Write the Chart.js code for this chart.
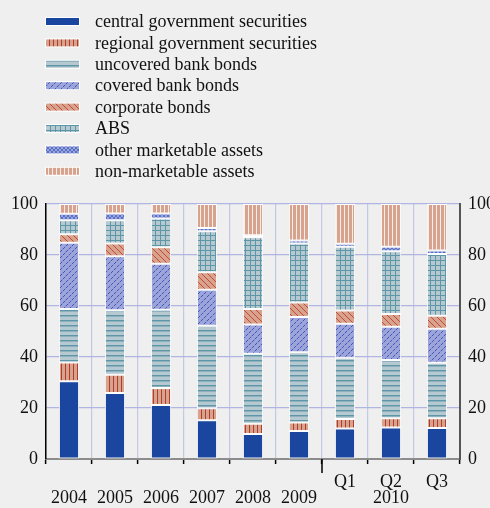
<!DOCTYPE html>
<html lang="en">
<head>
    <meta charset="UTF-8">
    <title>Eligible collateral by asset type</title>
    <script src="https://cdn.jsdelivr.net/npm/chart.js"></script>
    <style>
        body { margin: 0; background: #efefef; }
        #wrap { width: 490px; height: 508px; }
    </style>
</head>
<body>
    <div id="wrap"><canvas id="collChart" width="490" height="508"></canvas></div>

    <script>
        // data (percent of total)
        const categories = ["2004", "2005", "2006", "2007", "2008", "2009", "Q1", "Q2", "Q3"];
        const yearLabels = ["2004", "2005", "2006", "2007", "2008", "2009", "", "2010", ""];
        const quarterLabels = ["", "", "", "", "", "", "Q1", "Q2", "Q3"];
        const seriesNames = [
            "central government securities",
            "regional government securities",
            "uncovered bank bonds",
            "covered bank bonds",
            "corporate bonds",
            "ABS",
            "other marketable assets",
            "non-marketable assets"
        ];
        const centralGov = [30.5, 25.9, 21.2, 15.2, 9.8, 11.0, 12.0, 12.4, 12.2];
        const regionalGov = [7.3, 7.1, 6.6, 4.7, 4.0, 3.3, 3.7, 3.6, 3.8];
        const uncoveredBank = [21.0, 25.3, 30.7, 32.4, 27.5, 27.6, 24.0, 22.8, 21.7];
        const coveredBank = [26.0, 21.2, 18.1, 14.1, 11.4, 13.8, 13.3, 13.1, 13.4];
        const corporate = [3.3, 5.0, 6.4, 6.8, 6.1, 5.7, 5.2, 5.0, 5.1];
        const abs = [5.5, 9.1, 11.3, 16.1, 28.2, 23.1, 25.0, 24.6, 24.2];
        const otherMarketable = [2.6, 2.7, 2.0, 1.3, 0.7, 1.2, 1.2, 1.7, 1.4];
        const nonMarketable = [3.8, 3.7, 3.7, 9.4, 12.3, 14.3, 15.6, 16.8, 18.2];
        const yTicks = [0, 20, 40, 60, 80, 100];

        const SALMON = "#d8a38e";
        const GREYBLUE = "#b6c8d0";
        const TEAL = "#5d96a6";

        function makePattern(w, h, draw) {
            const c = document.createElement("canvas");
            c.width = w; c.height = h;
            const g = c.getContext("2d");
            draw(g);
            return g.createPattern(c, "repeat");
        }
        function px(g, x, y, col) { g.fillStyle = col; g.fillRect(x, y, 1, 1); }

        const fills = [
            "#1a46a0",
            makePattern(4, 1, g => { g.fillStyle = SALMON; g.fillRect(0, 0, 4, 1); px(g, 1, 0, "#b43c2c"); }),
            makePattern(1, 5, g => { g.fillStyle = GREYBLUE; g.fillRect(0, 0, 1, 5); px(g, 0, 0, TEAL); px(g, 0, 1, "#8eb1bd"); }),
            makePattern(6, 6, g => {
                g.fillStyle = "#9ca4da"; g.fillRect(0, 0, 6, 6);
                for (let i = 0; i < 6; i++) px(g, i, 5 - i, i % 3 === 2 ? "#7f8ed2" : "#3f57b8");
            }),
            makePattern(6, 6, g => {
                g.fillStyle = SALMON; g.fillRect(0, 0, 6, 6);
                for (let i = 0; i < 6; i++) px(g, i, i, "#c24a36");
            }),
            makePattern(5, 5, g => {
                g.fillStyle = GREYBLUE; g.fillRect(0, 0, 5, 5);
                g.fillStyle = TEAL; g.fillRect(0, 0, 5, 1); g.fillRect(0, 0, 1, 5);
            }),
            makePattern(4, 4, g => {
                g.fillStyle = "#97a5dc"; g.fillRect(0, 0, 4, 4);
                for (let i = 0; i < 4; i++) { px(g, i, i, "#5a6fc6"); px(g, i, 3 - i, "#5a6fc6"); }
            }),
            makePattern(4, 1, g => { g.fillStyle = SALMON; g.fillRect(0, 0, 4, 1); px(g, 0, 0, "#f6ece8"); })
        ];

        const seriesData = [centralGov, regionalGov, uncoveredBank, coveredBank, corporate, abs, otherMarketable, nonMarketable];

        Chart.defaults.font.family = "'Liberation Serif', 'DejaVu Serif', serif";
        Chart.defaults.font.size = 18;
        Chart.defaults.color = "#111";

        // vertical legend in the top block, like the original
        const legendPlugin = {
            id: "stackLegend",
            afterDraw(chart) {
                const ctx = chart.ctx;
                ctx.save();
                ctx.font = "18px 'Liberation Serif'";
                ctx.textBaseline = "middle";
                seriesNames.forEach((name, i) => {
                    const cy = 21.5 + i * 21.4;
                    ctx.fillStyle = "#ffffff";
                    ctx.fillRect(45, cy - 4.5, 35, 9);
                    ctx.fillStyle = fills[i];
                    ctx.fillRect(46, cy - 3.5, 33, 7);
                    ctx.fillStyle = "#111";
                    ctx.fillText(name, 95, cy + 1);
                });
                // longer tick separating the 2010 quarters
                const xs = chart.scales.x;
                const bx = (xs.getPixelForValue(5) + xs.getPixelForValue(6)) / 2;
                ctx.strokeStyle = "#000";
                ctx.lineWidth = 1.5;
                ctx.beginPath();
                ctx.moveTo(bx, chart.chartArea.bottom);
                ctx.lineTo(bx, chart.chartArea.bottom + 14);
                ctx.stroke();
                ctx.restore();
            }
        };

        const ctx = document.getElementById("collChart").getContext("2d");
        new Chart(ctx, {
            type: "bar",
            data: {
                labels: categories.map((c, i) => [quarterLabels[i], yearLabels[i]]),
                datasets: seriesNames.map((name, i) => ({
                    label: name,
                    data: seriesData[i],
                    backgroundColor: fills[i],
                    borderColor: "#ffffff",
                    borderWidth: 1,
                    borderSkipped: false,
                    barPercentage: 0.44,
                    categoryPercentage: 1
                }))
            },
            options: {
                responsive: false,
                animation: false,
                layout: { padding: { top: 204, left: 0, right: 0, bottom: 0 } },
                plugins: {
                    legend: { display: false },
                    tooltip: { enabled: false }
                },
                scales: {
                    x: {
                        stacked: true,
                        afterFit: s => { s.height = 49; },
                        border: { color: "#8c8c8c", width: 2 },
                        grid: { color: "#c4c7e6", lineWidth: 1.2, tickColor: "#000", tickLength: 5, tickWidth: 1.5 },
                        ticks: { font: { size: 18, lineHeight: 0.9 }, padding: 10, maxRotation: 0, autoSkip: false }
                    },
                    y: {
                        stacked: true,
                        min: 0, max: 100,
                        afterFit: s => { s.width = 46; },
                        afterBuildTicks: s => { s.ticks = yTicks.map(v => ({ value: v })); },
                        border: { color: "#000", width: 1.5 },
                        grid: { color: "#b0b5e2", lineWidth: 1.2, drawTicks: false },
                        ticks: { padding: 8 }
                    },
                    y2: {
                        position: "right",
                        min: 0, max: 100,
                        afterFit: s => { s.width = 30; },
                        afterBuildTicks: s => { s.ticks = yTicks.map(v => ({ value: v })); },
                        border: { color: "#555", width: 2 },
                        grid: { drawOnChartArea: false, drawTicks: false },
                        ticks: { padding: 8 }
                    }
                }
            },
            plugins: [legendPlugin]
        });
    </script>
</body>
</html>
